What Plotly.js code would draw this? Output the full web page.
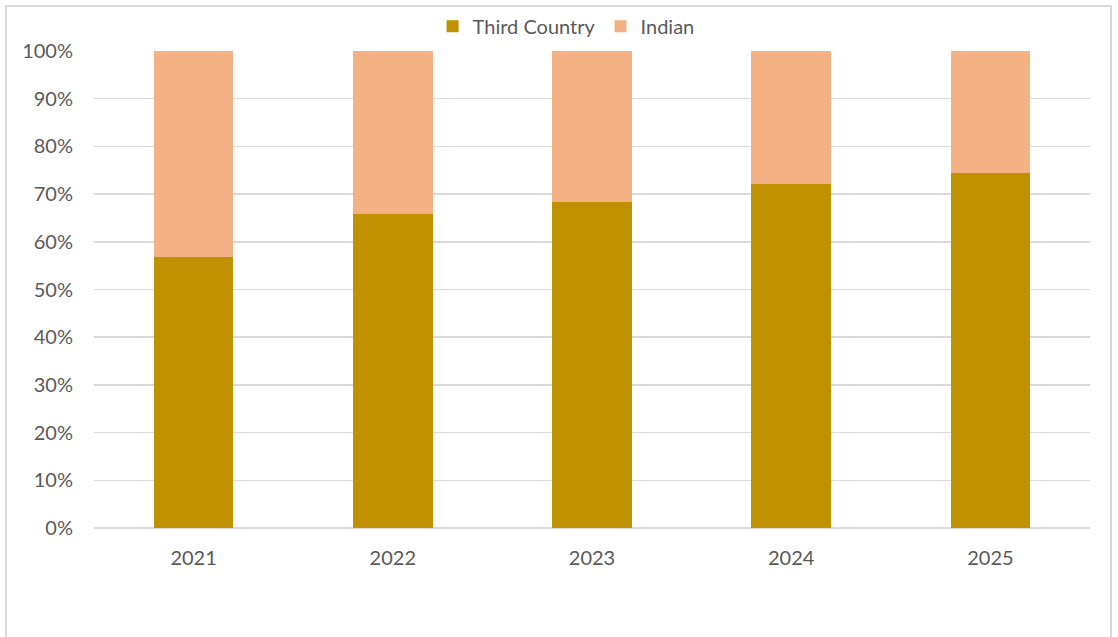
<!DOCTYPE html>
<html>
<head>
<meta charset="utf-8">
<script src="https://cdn.plot.ly/plotly-3.0.1.min.js"></script>
<style>
html,body{margin:0;padding:0;background:#fff;overflow:hidden;}
#chart{width:1118px;height:637px;}
#frame{position:absolute;left:5px;top:5px;width:1107px;height:650px;border:2px solid #d9d9d9;pointer-events:none;box-sizing:border-box;}
</style>
</head>
<body>
<div id="chart"></div>
<div id="frame"></div>
<script>
const years = ['2021', '2022', '2023', '2024', '2025'];
const thirdCountry = [0.569, 0.659, 0.684, 0.722, 0.745];
const indian = [0.431, 0.341, 0.316, 0.278, 0.255];
const yTickVals = [0, 0.1, 0.2, 0.3, 0.4, 0.5, 0.6, 0.7, 0.8, 0.9, 1.0];
const yTickText = ['0%', '10%', '20%', '30%', '40%', '50%', '60%', '70%', '80%', '90%', '100%'];

const font = {family: 'Lato, "Open Sans", sans-serif', size: 20, color: '#595959'};

const traces = [
  {type: 'bar', name: 'Third Country', x: years, y: thirdCountry, marker: {color: '#bf9000'}, width: 0.4, hoverinfo: 'skip'},
  {type: 'bar', name: 'Indian', x: years, y: indian, marker: {color: '#f4b183'}, width: 0.4, hoverinfo: 'skip'}
];

const layout = {
  width: 1118, height: 637,
  barmode: 'stack',
  paper_bgcolor: '#ffffff', plot_bgcolor: '#ffffff',
  margin: {l: 94, r: 28, t: 51, b: 109, autoexpand: false},
  font: font,
  showlegend: true,
  legend: {orientation: 'h', x: 0.474, xanchor: 'center', y: 1.052, yanchor: 'middle', font: font, traceorder: 'normal', itemwidth: 30},
  xaxis: {type: 'category', showgrid: false, showline: false, ticks: '', tickfont: font, ticklabelstandoff: 16, fixedrange: true},
  yaxis: {range: [0, 1.0], tickvals: yTickVals, ticktext: yTickText, showgrid: true, gridcolor: '#d9d9d9', gridwidth: 1.5, zeroline: true, zerolinecolor: '#d9d9d9', zerolinewidth: 1.5, showline: false, ticks: '', tickfont: font, ticklabelstandoff: 20, fixedrange: true}
};

Plotly.newPlot('chart', traces, layout, {displayModeBar: false, staticPlot: true});
</script>
</body>
</html>
